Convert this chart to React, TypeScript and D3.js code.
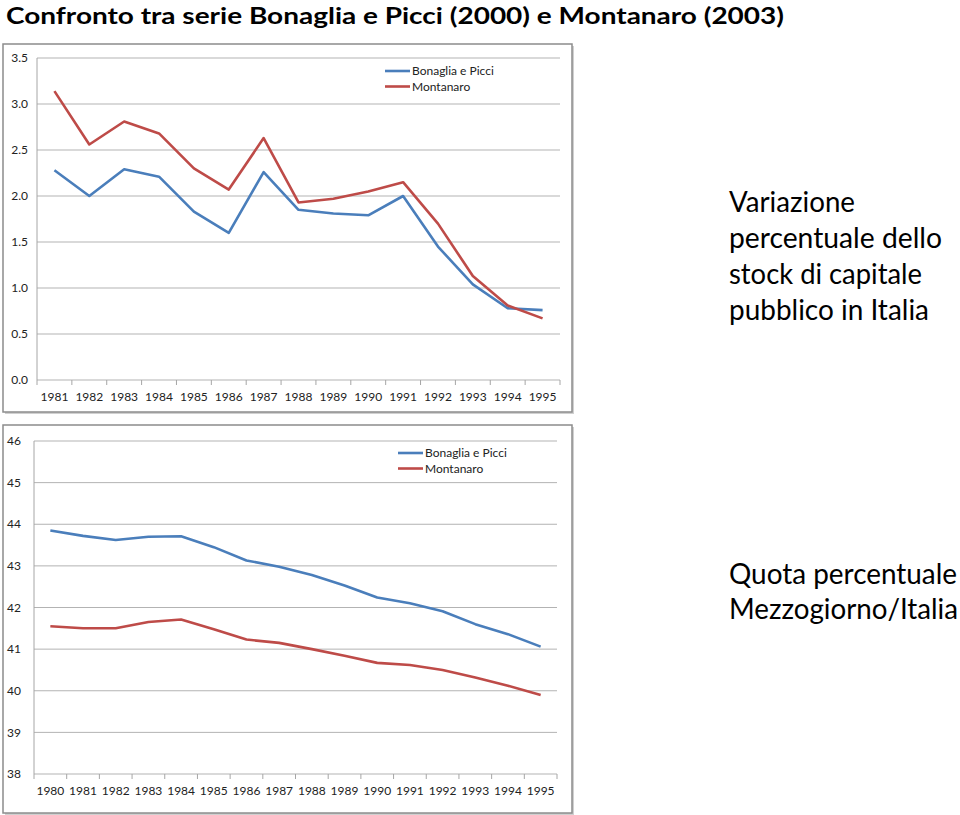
import * as d3 from "d3";

// top chart: variazione percentuale
const yearsTop = ["1981", "1982", "1983", "1984", "1985", "1986", "1987", "1988", "1989", "1990", "1991", "1992", "1993", "1994", "1995"];
const bonagliaTop = [2.28, 2.0, 2.29, 2.21, 1.83, 1.6, 2.26, 1.85, 1.81, 1.79, 2.0, 1.45, 1.04, 0.78, 0.76];
const montanaroTop = [3.14, 2.56, 2.81, 2.68, 2.3, 2.07, 2.63, 1.93, 1.97, 2.05, 2.15, 1.7, 1.13, 0.81, 0.67];
const ticksTop = [0, 0.5, 1, 1.5, 2, 2.5, 3, 3.5];

// bottom chart: quota Mezzogiorno/Italia
const yearsBottom = ["1980", "1981", "1982", "1983", "1984", "1985", "1986", "1987", "1988", "1989", "1990", "1991", "1992", "1993", "1994", "1995"];
const bonagliaBottom = [43.85, 43.72, 43.62, 43.7, 43.71, 43.45, 43.13, 42.98, 42.78, 42.53, 42.24, 42.1, 41.91, 41.6, 41.36, 41.06];
const montanaroBottom = [41.55, 41.5, 41.5, 41.65, 41.71, 41.48, 41.23, 41.15, 41.0, 40.84, 40.67, 40.62, 40.5, 40.32, 40.12, 39.9];
const ticksBottom = [38, 39, 40, 41, 42, 43, 44, 45, 46];

const seriesNames = ["Bonaglia e Picci", "Montanaro"];
const BLUE = "#4a7ebb";
const RED = "#be4b48";
const FONT = "Lato, 'Open Sans', sans-serif";

type PanelProps = {
  frame: { x: number; y: number; w: number; h: number };
  plot: { left: number; right: number; top: number; bottom: number };
  years: string[];
  series: number[][];
  ticks: number[];
  domain: [number, number];
  fmt: (v: number) => string;
  labelX: number;
  legend: { x: number; y: number };
};

function Panel({ frame, plot, years, series, ticks, domain, fmt, labelX, legend }: PanelProps) {
  const x = d3.scaleBand().domain(years).range([plot.left, plot.right]);
  const y = d3.scaleLinear().domain(domain).range([plot.bottom, plot.top]);
  const line = d3
    .line<number>()
    .x((_, i) => (x(years[i]) as number) + x.bandwidth() / 2)
    .y((d) => y(d));
  const colors = [BLUE, RED];
  const edges = years.map((yr) => x(yr) as number).concat([plot.right]);

  return (
    <g>
      <rect x={frame.x + 2} y={frame.y + 2} width={frame.w} height={frame.h} fill="#d0d0d0" />
      <rect x={frame.x} y={frame.y} width={frame.w} height={frame.h} fill="#fff" stroke="#8c8c8c" strokeWidth={1.5} />
      {ticks.map((t) => (
        <g key={t}>
          <line x1={plot.left} x2={plot.right} y1={y(t)} y2={y(t)} stroke="#b3b3b3" strokeWidth={1} />
          <text x={labelX} y={y(t)} dy="0.35em" textAnchor="end" fontSize={12} fontFamily={FONT} fill="#222">
            {fmt(t)}
          </text>
        </g>
      ))}
      <line x1={plot.left} x2={plot.left} y1={plot.top} y2={plot.bottom} stroke="#a6a6a6" />
      {edges.map((e, i) => (
        <line key={i} x1={e} x2={e} y1={plot.bottom} y2={plot.bottom + 5} stroke="#a6a6a6" />
      ))}
      {years.map((yr) => (
        <text
          key={yr}
          x={(x(yr) as number) + x.bandwidth() / 2}
          y={plot.bottom + 17}
          dy="0.35em"
          textAnchor="middle"
          fontSize={12}
          fontFamily={FONT}
          fill="#222"
        >
          {yr}
        </text>
      ))}
      {series.map((s, i) => (
        <path key={i} d={line(s) ?? ""} fill="none" stroke={colors[i]} strokeWidth={2.6} strokeLinejoin="round" />
      ))}
      {seriesNames.map((n, i) => (
        <g key={n}>
          <line x1={legend.x} x2={legend.x + 25} y1={legend.y + i * 15.5} y2={legend.y + i * 15.5} stroke={colors[i]} strokeWidth={2.6} />
          <text x={legend.x + 27} y={legend.y + i * 15.5} dy="0.35em" fontSize={12} fontFamily={FONT} fill="#222">
            {n}
          </text>
        </g>
      ))}
    </g>
  );
}

const sideTop = [
  { t: "Variazione", w: 126 },
  { t: "percentuale dello", w: 213 },
  { t: "stock di capitale", w: 193 },
  { t: "pubblico in Italia", w: 200 },
];
const sideBottom = [
  { t: "Quota percentuale", w: 228 },
  { t: "Mezzogiorno/Italia", w: 229 },
];

export default function App() {
  return (
    <div style={{ position: "absolute", left: 0, top: 0 }}>
      <svg width={960} height={815} style={{ display: "block", background: "#fff" }}>
        <text
          x={6}
          y={24}
          fontSize={23}
          fontWeight="bold"
          fontFamily={FONT}
          fill="#000"
          textLength={778}
          lengthAdjust="spacingAndGlyphs"
        >
          Confronto tra serie Bonaglia e Picci (2000) e Montanaro (2003)
        </text>
        <Panel
          frame={{ x: 3, y: 44, w: 569, h: 368 }}
          plot={{ left: 37, right: 560, top: 58, bottom: 380 }}
          years={yearsTop}
          series={[bonagliaTop, montanaroTop]}
          ticks={ticksTop}
          domain={[0, 3.5]}
          fmt={(v) => v.toFixed(1)}
          labelX={28}
          legend={{ x: 385, y: 71 }}
        />
        <Panel
          frame={{ x: 3, y: 425, w: 569, h: 388 }}
          plot={{ left: 34, right: 557, top: 441, bottom: 774 }}
          years={yearsBottom}
          series={[bonagliaBottom, montanaroBottom]}
          ticks={ticksBottom}
          domain={[38, 46]}
          fmt={(v) => String(v)}
          labelX={21}
          legend={{ x: 398, y: 453 }}
        />
        {sideTop.map((l, i) => (
          <text key={l.t} x={729} y={212 + i * 36} fontSize={28} fontFamily={FONT} fill="#000" textLength={l.w} lengthAdjust="spacingAndGlyphs">
            {l.t}
          </text>
        ))}
        {sideBottom.map((l, i) => (
          <text key={l.t} x={729} y={584 + i * 35} fontSize={28} fontFamily={FONT} fill="#000" textLength={l.w} lengthAdjust="spacingAndGlyphs">
            {l.t}
          </text>
        ))}
      </svg>
    </div>
  );
}
